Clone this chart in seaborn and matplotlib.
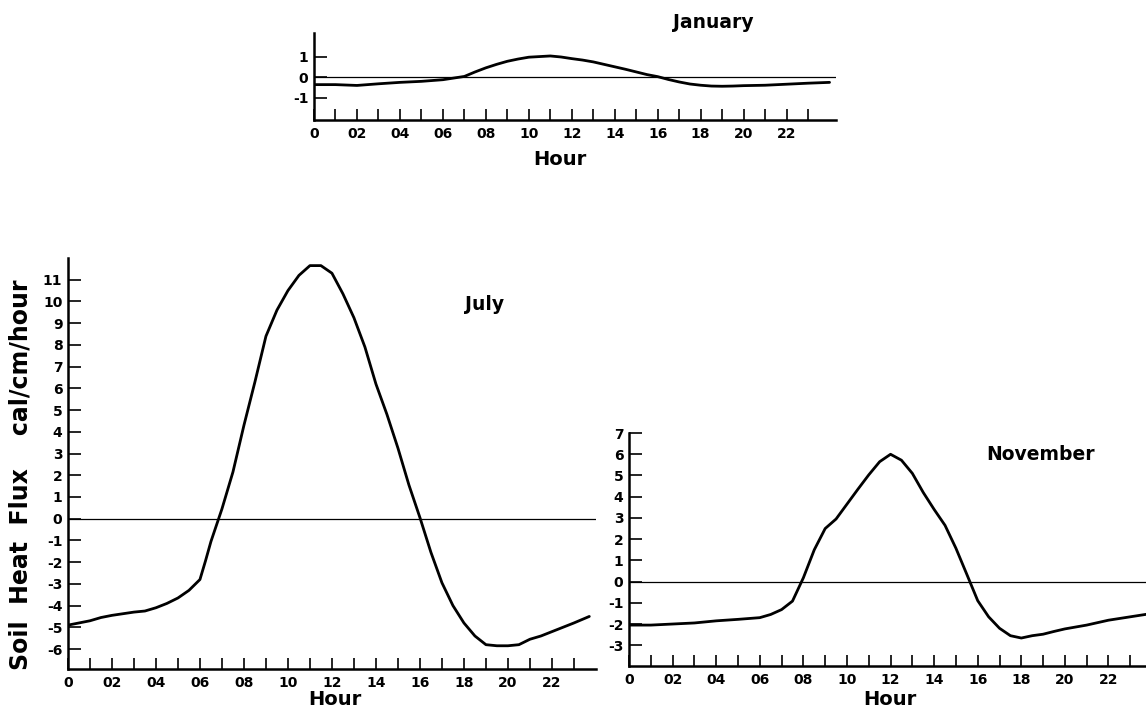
import matplotlib
matplotlib.use("Agg")
import matplotlib.pyplot as plt
import seaborn as sns

# readings from the three panels (hour of day, soil heat flux)
jan_hour = [0, 1, 2, 3, 4, 5, 6, 6.5, 7, 7.5, 8, 8.5, 9, 9.5, 10, 10.5, 11, 11.5, 12,
            12.5, 13, 13.5, 14, 14.5, 15, 15.5, 16, 16.5, 17, 17.5, 18, 18.5, 19,
            19.5, 20, 21, 22, 23, 24]
jan_flux = [-0.37, -0.37, -0.41, -0.33, -0.26, -0.21, -0.13, -0.05, 0.03, 0.25, 0.45,
            0.62, 0.77, 0.88, 0.97, 1.0, 1.03, 0.98, 0.9, 0.83, 0.74, 0.62, 0.5, 0.38,
            0.25, 0.12, 0.02, -0.12, -0.24, -0.34, -0.4, -0.44, -0.45, -0.44, -0.42,
            -0.4, -0.35, -0.3, -0.26]

jul_hour = [0, 0.5, 1, 1.5, 2, 3, 3.5, 4, 4.5, 5, 5.5, 6, 6.25, 6.5, 6.75, 7, 7.5, 8,
            8.5, 9, 9.5, 10, 10.5, 11, 11.5, 12, 12.5, 13, 13.5, 14, 14.5, 15, 15.5,
            16, 16.5, 17, 17.5, 18, 18.5, 19, 19.5, 20, 20.5, 21, 21.5, 22, 22.5, 23,
            23.7]
jul_flux = [-4.9, -4.8, -4.7, -4.55, -4.45, -4.3, -4.25, -4.1, -3.9, -3.65, -3.3, -2.8,
            -1.95, -1.05, -0.3, 0.45, 2.15, 4.3, 6.3, 8.4, 9.6, 10.5, 11.2, 11.65, 11.65,
            11.3, 10.35, 9.25, 7.9, 6.2, 4.8, 3.25, 1.55, 0.05, -1.55, -2.95, -4.0,
            -4.8, -5.4, -5.8, -5.85, -5.85, -5.8, -5.55, -5.4, -5.2, -5.0, -4.8, -4.5]

nov_hour = [0, 1, 2, 3, 4, 5, 6, 6.5, 7, 7.5, 8, 8.5, 9, 9.5, 10, 10.5, 11, 11.5, 12,
            12.5, 13, 13.5, 14, 14.5, 15, 15.5, 16, 16.5, 17, 17.5, 18, 18.5, 19,
            19.5, 20, 21, 22, 23, 24]
nov_flux = [-2.05, -2.05, -2.0, -1.95, -1.85, -1.78, -1.7, -1.55, -1.32, -0.92, 0.18,
            1.5, 2.5, 2.95, 3.65, 4.35, 5.03, 5.65, 6.0, 5.72, 5.1, 4.2, 3.4, 2.65,
            1.57, 0.34, -0.9, -1.66, -2.2, -2.55, -2.66, -2.55, -2.48, -2.35, -2.23,
            -2.05, -1.82, -1.66, -1.5]

hour_ticks = list(range(0, 24))
hour_labels = ['0', '', '02', '', '04', '', '06', '', '08', '', '10', '', '12', '',
               '14', '', '16', '', '18', '', '20', '', '22', '']

sns.set_style("ticks")
plt.rcParams['font.family'] = ['DejaVu Sans']
plt.rcParams['font.weight'] = 'bold'
plt.rcParams['text.color'] = 'black'
plt.rcParams['axes.labelcolor'] = 'black'
plt.rcParams['xtick.color'] = 'black'
plt.rcParams['ytick.color'] = 'black'

fig = plt.figure(figsize=(11.46, 7.09), dpi=100)


def panel(rect, hours, flux, yticks, xmax, ylim, title, title_xy, hour_xy):
    ax = fig.add_axes(rect)
    sns.lineplot(x=hours, y=flux, ax=ax, color='black', linewidth=2.0)
    ax.axhline(0, color='black', linewidth=0.9)
    sns.despine(ax=ax)
    for s in ['left', 'bottom']:
        ax.spines[s].set_linewidth(1.8)
        ax.spines[s].set_color('black')
    ax.set_xlim(0, xmax)
    ax.set_ylim(*ylim)
    ax.set_xticks(hour_ticks)
    ax.set_xticklabels(hour_labels)
    ax.set_yticks(yticks)
    ax.set_yticklabels([str(v) for v in yticks])
    ax.tick_params(axis='x', direction='in', length=8, width=1.2, labelsize=10, pad=5)
    ax.tick_params(axis='y', direction='in', length=9, width=1.2, labelsize=10, pad=4)
    for lab in ax.get_xticklabels() + ax.get_yticklabels():
        lab.set_fontweight('bold')
    ax.set_xlabel('Hour', fontsize=14, fontweight='bold')
    ax.xaxis.set_label_coords(*hour_xy)
    ax.set_ylabel('')
    ax.text(title_xy[0], title_xy[1], title, transform=ax.transAxes, fontsize=13.5,
            fontweight='bold', ha='center', va='center')
    ax.set_facecolor('none')
    return ax


panel([0.274, 0.8307, 0.4555, 0.1227], jan_hour, jan_flux, [-1, 0, 1], 24.3,
      (-2.1, 2.15), 'January', (0.764, 1.126), (0.471, -0.345))

ax_jul = panel([0.0593, 0.0564, 0.4607, 0.5797], jul_hour, jul_flux,
               list(range(-6, 12)), 24, (-6.92, 12.0), 'July', (0.79, 0.886),
               (0.506, -0.051))
ax_jul.set_ylabel('Soil  Heat  Flux    cal/cm/hour', fontsize=17, fontweight='bold')
ax_jul.yaxis.set_label_coords(-0.068, 0.472)

panel([0.5489, 0.0606, 0.4564, 0.3286], nov_hour, nov_flux, list(range(-3, 8)), 24,
      (-3.98, 7.0), 'November', (0.786, 0.906), (0.499, -0.103))

plt.savefig('out.png', dpi=100)
